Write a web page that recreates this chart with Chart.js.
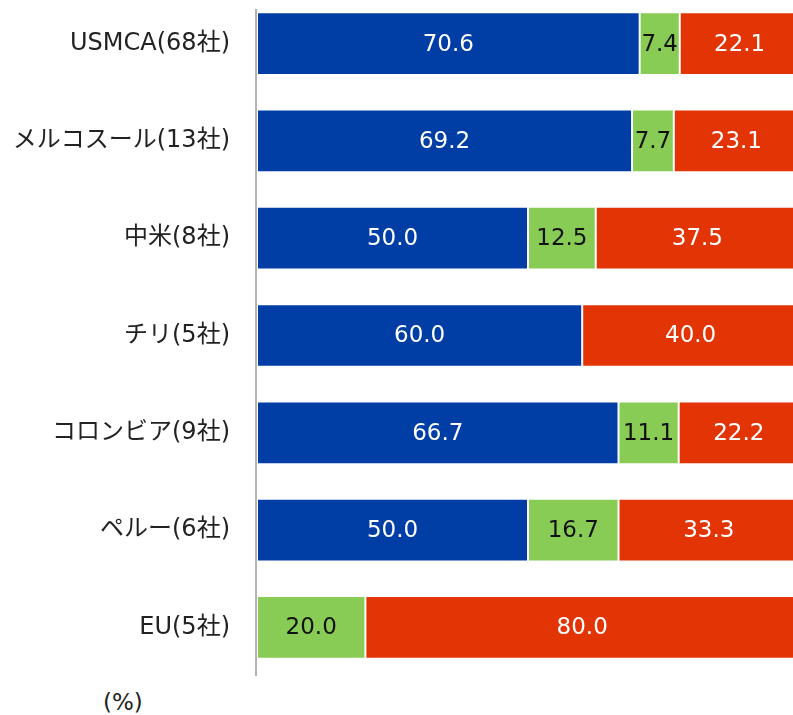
<!DOCTYPE html>
<html lang="ja">
<head>
<meta charset="utf-8">
<script src="https://cdn.jsdelivr.net/npm/chart.js@4"></script>
<style>
    html, body { margin: 0; padding: 0; background: #fff; overflow: hidden; }
    body { width: 793px; height: 715px; position: relative; }
    #chart { position: absolute; left: 0; top: -5px; }
    #unit {
        position: absolute; left: 103px; top: 689px;
        font-family: "DejaVu Sans", "Noto Sans CJK JP", sans-serif;
        font-size: 23px; color: #222;
    }
</style>
</head>
<body>
<canvas id="chart" width="799" height="681"></canvas>
<div id="unit">(%)</div>
<script>
// Categories and series values (%)
const categories = ['USMCA(68社)', 'メルコスール(13社)', '中米(8社)', 'チリ(5社)', 'コロンビア(9社)', 'ペルー(6社)', 'EU(5社)'];
const blueValues = [70.6, 69.2, 50.0, 60.0, 66.7, 50.0, 0];
const greenValues = [7.4, 7.7, 12.5, 0, 11.1, 16.7, 20.0];
const redValues = [22.1, 23.1, 37.5, 40.0, 22.2, 33.3, 80.0];

const FONT = '"DejaVu Sans", "Noto Sans CJK JP", sans-serif';

// Vertical axis line, starting a little below the top of the plot
const axisLine = {
    id: 'axisLine',
    beforeDatasetsDraw(chart) {
        const { ctx, chartArea } = chart;
        ctx.save();
        ctx.strokeStyle = '#999999';
        ctx.lineWidth = 1.5;
        ctx.beginPath();
        ctx.moveTo(chartArea.left - 1, chartArea.top + 14);
        ctx.lineTo(chartArea.left - 1, chartArea.bottom);
        ctx.stroke();
        ctx.restore();
    }
};

// Draw values in the middle of each segment
const valueLabels = {
    id: 'valueLabels',
    afterDatasetsDraw(chart) {
        const ctx = chart.ctx;
        ctx.save();
        ctx.font = '23px ' + FONT;
        ctx.textAlign = 'center';
        ctx.textBaseline = 'middle';
        chart.data.datasets.forEach((ds, i) => {
            const meta = chart.getDatasetMeta(i);
            meta.data.forEach((bar, j) => {
                const v = ds.data[j];
                if (!v) return;
                const p = bar.getCenterPoint();
                ctx.fillStyle = ds.labelColor;
                ctx.fillText(v.toFixed(1), p.x, p.y + 1);
            });
        });
        ctx.restore();
    }
};

const ctx = document.getElementById('chart').getContext('2d');
new Chart(ctx, {
    type: 'bar',
    data: {
        labels: categories,
        datasets: [{
            label: 'blue',
            data: blueValues,
            backgroundColor: '#003ea6',
            labelColor: '#ffffff'
        }, {
            label: 'green',
            data: greenValues,
            backgroundColor: '#88cc55',
            labelColor: '#111111'
        }, {
            label: 'red',
            data: redValues,
            backgroundColor: '#e23405',
            labelColor: '#ffffff'
        }]
    },
    options: {
        indexAxis: 'y',
        responsive: false,
        animation: false,
        layout: { padding: 0 },
        datasets: {
            bar: {
                categoryPercentage: 1,
                barPercentage: 0.645,
                borderColor: '#ffffff',
                borderWidth: 1,
                borderSkipped: false
            }
        },
        plugins: {
            legend: { display: false },
            tooltip: { enabled: false }
        },
        scales: {
            x: {
                stacked: true,
                min: 0,
                max: 100,
                display: false
            },
            y: {
                stacked: true,
                grid: { display: false },
                border: { display: false },
                ticks: {
                    color: '#222222',
                    padding: 19,
                    font: { family: FONT, size: 24 }
                },
                afterFit: function (scale) {
                    scale.width = 257;
                    // no extra room above/below the first and last labels
                    scale.paddingTop = 0;
                    scale.paddingBottom = 0;
                }
            }
        }
    },
    plugins: [axisLine, valueLabels]
});
</script>
</body>
</html>
